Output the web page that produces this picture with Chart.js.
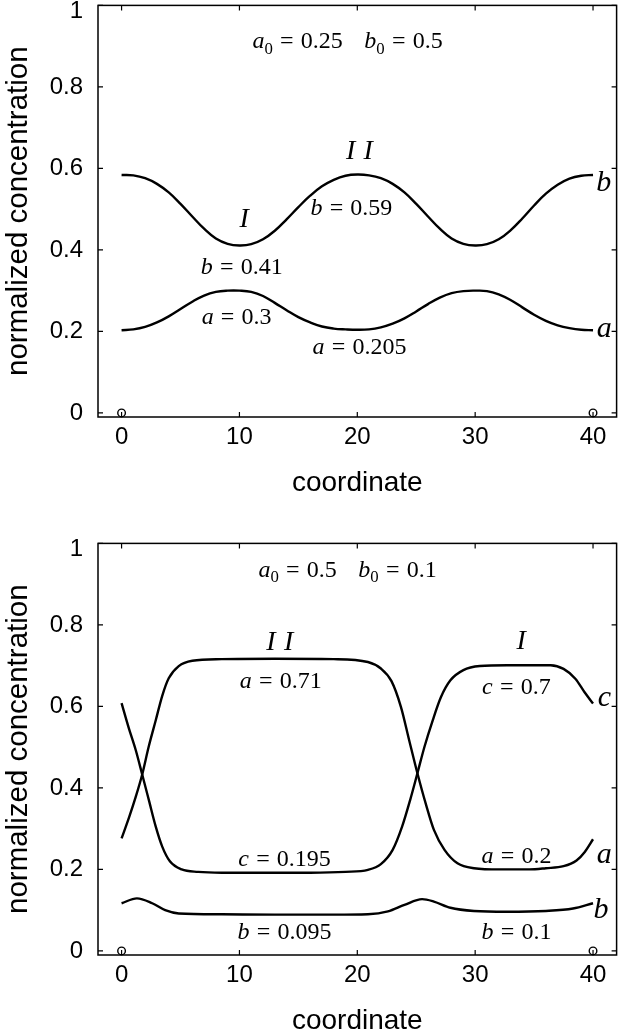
<!DOCTYPE html>
<html><head><meta charset="utf-8">
<script src="https://cdn.jsdelivr.net/npm/chart.js@4.4.1/dist/chart.umd.min.js"></script>
<style>
html,body{margin:0;padding:0;background:#fff;overflow:hidden;width:622px;height:1033px}
canvas{position:absolute;left:0}
#c1{top:0}
#c2{top:538px}
</style></head><body>
<canvas id="c1" width="622" height="520"></canvas>
<canvas id="c2" width="622" height="520"></canvas>
<script>
// ---------- data ----------
const xTicks = [0, 10, 20, 30, 40];
const yTicks = [0, 0.2, 0.4, 0.6, 0.8, 1];
const yTickLabels = ['0', '0.2', '0.4', '0.6', '0.8', '1'];
const xLabel = 'coordinate';
const yLabel = 'normalized concentration';

// top panel (a0 = 0.25, b0 = 0.5)
const topX = [0,1,2,3,4,5,6,7,8,9,10,11,12,13,14,15,16,17,18,19,20,21,22,23,24,25,26,27,28,29,30,31,32,33,34,35,36,37,38,39,40];
const topB = [0.584,0.583,0.576,0.562,0.541,0.513,0.482,0.452,0.428,0.415,0.411,0.414,0.426,0.447,0.475,0.505,0.533,0.556,0.572,0.582,0.585,
              0.583,0.576,0.562,0.541,0.513,0.482,0.452,0.428,0.415,0.411,0.414,0.426,0.448,0.477,0.509,0.538,0.560,0.575,0.582,0.584];
const topA = [0.203,0.205,0.211,0.222,0.237,0.255,0.273,0.288,0.297,0.300,0.300,0.297,0.287,0.270,0.252,0.235,0.222,0.212,0.207,0.205,0.204,
              0.205,0.210,0.219,0.232,0.249,0.267,0.283,0.294,0.299,0.300,0.299,0.291,0.277,0.259,0.241,0.226,0.215,0.208,0.204,0.203];

// bottom panel (a0 = 0.5, b0 = 0.1)
const botC = [[0,0.608],[0.6,0.548],[1.2,0.493],[1.75,0.433],[2.3,0.372],[2.9,0.305],[3.45,0.256],[4.1,0.220],[5.1,0.200],[6.5,0.194],
              [8.5,0.192],[12,0.192],[16,0.192],[19,0.194],[20.9,0.199],[22,0.213],[23,0.248],[23.8,0.305],[24.5,0.372],[25.1,0.436],
              [25.7,0.501],[26.4,0.566],[27.1,0.623],[27.9,0.664],[29,0.689],[30.4,0.699],[32.7,0.701],[36.4,0.701],[37.5,0.692],
              [38.5,0.668],[39.3,0.634],[40,0.607]];
const botA = [[0,0.276],[0.65,0.329],[1.2,0.378],[1.75,0.433],[2.3,0.501],[2.9,0.566],[3.45,0.626],[4.0,0.669],[4.85,0.699],[6,0.712],
              [8.5,0.716],[13,0.717],[18,0.716],[20.9,0.709],[22,0.693],[22.9,0.662],[23.7,0.599],[24.4,0.517],[25.1,0.436],[25.8,0.362],
              [26.5,0.297],[27.4,0.248],[28.5,0.215],[29.9,0.203],[32.1,0.200],[34.6,0.200],[36,0.203],[37.5,0.208],[38.6,0.222],
              [39.3,0.243],[40,0.274]];
const botB = [[0,0.117],[1.3,0.129],[2.6,0.117],[3.7,0.100],[4.85,0.092],[8.5,0.090],[13,0.089],[18,0.089],[20.9,0.090],[22.6,0.097],
              [24,0.113],[25.5,0.127],[26.5,0.121],[27.9,0.106],[29.9,0.098],[32.7,0.096],[36,0.098],[38.3,0.104],[40,0.117]];

const markerPts = [[0,0],[40,0]];

// annotations (data coordinates)
const topNotes = [
  {x:19.17, y:0.908, t:'a_0 = 0.25   b_0 = 0.5', k:'note'},
  {x:20.18, y:0.645, t:'I I', k:'roman'},
  {x:10.40, y:0.478, t:'I', k:'roman'},
  {x:19.5,  y:0.505, t:'b = 0.59', k:'note'},
  {x:10.19, y:0.360, t:'b = 0.41', k:'note'},
  {x:9.76,  y:0.236, t:'a = 0.3', k:'note'},
  {x:20.18, y:0.162, t:'a = 0.205', k:'note'},
  {x:40.9,  y:0.569, t:'b', k:'end'},
  {x:40.96, y:0.203, t:'a', k:'end'}
];
const botNotes = [
  {x:19.17, y:0.931, t:'a_0 = 0.5   b_0 = 0.1', k:'note'},
  {x:13.43, y:0.760, t:'I I', k:'roman'},
  {x:33.9,  y:0.762, t:'I', k:'roman'},
  {x:13.5,  y:0.664, t:'a = 0.71', k:'note'},
  {x:33.5,  y:0.648, t:'c = 0.7', k:'note'},
  {x:40.96, y:0.618, t:'c', k:'end'},
  {x:13.83, y:0.228, t:'c = 0.195', k:'note'},
  {x:33.5,  y:0.234, t:'a = 0.2', k:'note'},
  {x:40.96, y:0.233, t:'a', k:'end'},
  {x:40.67, y:0.105, t:'b', k:'end'},
  {x:13.83, y:0.050, t:'b = 0.095', k:'note'},
  {x:33.5,  y:0.050, t:'b = 0.1', k:'note'}
];

// ---------- drawing ----------
const SANS = '"Liberation Sans", Arial, Helvetica, sans-serif';
const SERIF = '"Liberation Serif", "Times New Roman", serif';
const SIZES = {note: 24, roman: 28, end: 30};

function parseRich(s) {
  const parts = [];
  for (let i = 0; i < s.length; i++) {
    const ch = s[i];
    if (ch === '_') { parts.push({t: s[++i], sub: true}); continue; }
    if (ch === ' ') {
      let n = 1;
      while (s[i + 1] === ' ') { n++; i++; }
      const last = parts[parts.length - 1];
      if (s[i + 1] === '=' || (last && last.eq)) continue;
      parts.push({gap: n === 1 && last && last.t === 'I' ? 0.3 : n * 0.3});
      continue;
    }
    if (ch === '=') { parts.push({t: '=', eq: true}); continue; }
    const it = /[A-Za-z]/.test(ch);
    const last = parts[parts.length - 1];
    if (last && last.t !== undefined && !last.sub && !last.eq && last.it === it) last.t += ch;
    else parts.push({t: ch, it: it});
  }
  return parts;
}

function drawRich(ctx, text, cx, cy, size) {
  const parts = parseRich(text);
  let total = 0, maxAsc = 0, maxDesc = 0;
  parts.forEach(p => {
    if (p.gap !== undefined) { p.w = p.gap * size; total += p.w; return; }
    const fs = p.sub ? size * 0.7 : size;
    p.font = (p.it ? 'italic ' : '') + fs + 'px ' + SERIF;
    p.shift = p.sub ? size * 0.22 : 0;
    ctx.font = p.font;
    const m = ctx.measureText(p.t);
    p.pad = p.eq ? size * 0.3 : 0;
    p.w = m.width + 2 * p.pad;
    total += p.w;
    maxAsc = Math.max(maxAsc, m.actualBoundingBoxAscent - p.shift);
    maxDesc = Math.max(maxDesc, m.actualBoundingBoxDescent + p.shift);
  });
  const base = cy + (maxAsc - maxDesc) / 2;
  let x = cx - total / 2;
  ctx.textAlign = 'left';
  ctx.textBaseline = 'alphabetic';
  ctx.fillStyle = '#000';
  parts.forEach(p => {
    if (p.gap === undefined) {
      ctx.font = p.font;
      ctx.fillText(p.t, x + p.pad, base + p.shift);
    }
    x += p.w;
  });
}

const framePlugin = {
  id: 'frame',
  afterDatasetsDraw(chart) {
    const {ctx, chartArea: a, scales: {x, y}} = chart;
    ctx.save();
    ctx.strokeStyle = '#000';
    ctx.lineWidth = 1.5;
    ctx.strokeRect(a.left, a.top, a.right - a.left, a.bottom - a.top);
    ctx.lineWidth = 1.2;
    ctx.beginPath();
    xTicks.forEach(v => {
      const p = x.getPixelForValue(v);
      ctx.moveTo(p, a.bottom); ctx.lineTo(p, a.bottom - 5);
      ctx.moveTo(p, a.top); ctx.lineTo(p, a.top + 5);
    });
    yTicks.forEach(v => {
      const p = y.getPixelForValue(v);
      ctx.moveTo(a.left, p); ctx.lineTo(a.left + 5, p);
      ctx.moveTo(a.right, p); ctx.lineTo(a.right - 5, p);
    });
    ctx.stroke();
    ctx.restore();
  }
};

function notesPlugin(notes) {
  return {
    id: 'notes',
    afterDraw(chart) {
      const {ctx, scales: {x, y}} = chart;
      ctx.save();
      notes.forEach(n => drawRich(ctx, n.t, x.getPixelForValue(n.x), y.getPixelForValue(n.y), SIZES[n.k]));
      ctx.restore();
    }
  };
}

const toXY = arr => arr.map(p => ({x: p[0], y: p[1]}));
const lineDs = (data, mono) => ({data: data, borderColor: '#000', borderWidth: 2.4, pointRadius: 0, fill: false,
  tension: 0.4, cubicInterpolationMode: mono ? 'monotone' : 'default'});
const markerDs = () => ({data: toXY(markerPts), showLine: false, pointRadius: 3.8, pointBorderWidth: 1.4,
  pointBackgroundColor: '#fff', pointBorderColor: '#000', clip: false});

const lastTick = yTicks.length - 1;

function makeChart(id, datasets, notes) {
  return new Chart(document.getElementById(id), {
    type: 'line',
    data: {datasets: datasets},
    options: {
      responsive: false, animation: false, devicePixelRatio: 1,
      layout: {padding: {left: 0, right: 2, top: 5, bottom: 0}},
      plugins: {legend: {display: false}, tooltip: {enabled: false}},
      scales: {
        x: {
          type: 'linear', min: -2, max: 42,
          afterBuildTicks: s => { s.ticks = xTicks.map(v => ({value: v})); },
          afterFit: s => { s.height = 103; s.paddingLeft = 0; s.paddingRight = 0; },
          grid: {display: false, drawTicks: false}, border: {display: false},
          ticks: {color: '#000', font: {family: SANS, size: 24}, padding: 6, maxRotation: 0, autoSkip: false,
                  callback: v => String(v)},
          title: {display: true, text: xLabel, color: '#000', font: {family: SANS, size: 28},
                  padding: {top: 0, bottom: 20}}
        },
        y: {
          type: 'linear', min: -0.01, max: 1,
          afterBuildTicks: s => { s.ticks = yTicks.map(v => ({value: v})); },
          afterFit: s => { s.width = 98; s.paddingTop = 0; s.paddingBottom = 0; },
          grid: {display: false, drawTicks: false}, border: {display: false},
          ticks: {color: '#000', padding: 15, autoSkip: false,
                  font: c => (c.index === lastTick ? {family: SANS, size: 24, lineHeight: 0.5}
                                                   : {family: SANS, size: 24}),
                  callback: (v, i) => (i === lastTick ? ['', yTickLabels[i]] : yTickLabels[i])},
          title: {display: true, text: yLabel, color: '#000', font: {family: SANS, size: 29.5},
                  padding: {top: 1, bottom: 0}}
        }
      }
    },
    plugins: [framePlugin, notesPlugin(notes)]
  });
}

makeChart('c1', [
  lineDs(topX.map((v, i) => ({x: v, y: topB[i]})), false),
  lineDs(topX.map((v, i) => ({x: v, y: topA[i]})), false),
  markerDs()
], topNotes);

makeChart('c2', [
  lineDs(toXY(botC), true),
  lineDs(toXY(botA), true),
  lineDs(toXY(botB), true),
  markerDs()
], botNotes);
</script>
</body></html>
